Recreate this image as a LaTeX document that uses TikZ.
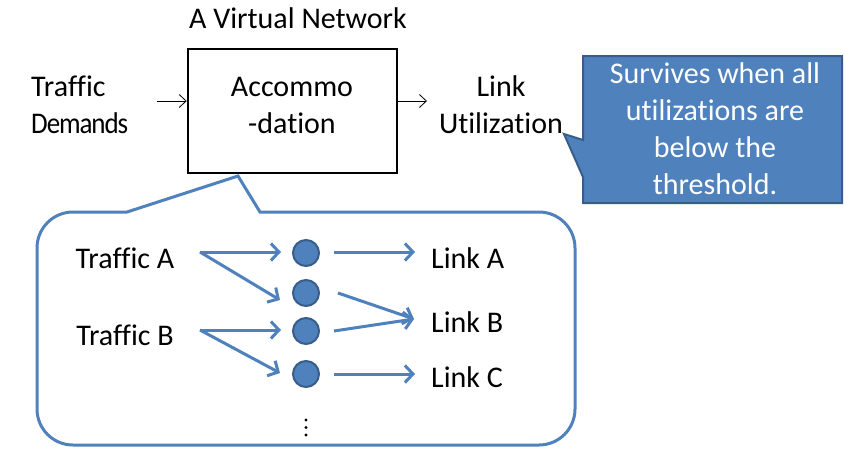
\documentclass[tikz,border=0pt]{standalone}
\usepackage{fontspec}
\setmainfont{Carlito}[Ligatures=CommonOff]
\newfontfamily\tightfont{Carlito}[Ligatures=CommonOff, LetterSpace=-4]
\usetikzlibrary{arrows.meta}
\definecolor{pblue}{HTML}{4F81BD}
\definecolor{pdark}{HTML}{385D8A}
\begin{document}
\begin{tikzpicture}[x=1pt,y=-1pt,
  font=\fontsize{30}{37}\selectfont,
  txt/.style={align=center, inner sep=0pt},
  mainbox/.style={draw=black, line width=2.5pt, minimum width=209pt, minimum height=124pt, inner sep=0pt},
  thinarr/.style={draw=black, line width=0.8pt, -{Straight Barb[length=7pt,width=13pt]}},
  barr/.style={draw=pblue, line width=3pt, -{Straight Barb[length=8pt,width=17pt]}},
  dotn/.style={circle, fill=pblue, draw=pdark, line width=2pt, minimum size=26pt, inner sep=0pt},
  callout/.style={fill=pblue, draw=pdark, line width=2pt, line join=miter},
  bubble/.style={draw=pblue, line width=3pt, fill=white}
]
\useasboundingbox (0,0) rectangle (844,448);

% title and main block
\node[txt] (title) at (298,18) {A Virtual Network};
\node[mainbox] (acc) at (292.5,111) {};
\node[txt] (acctext) at (292,105) {Accommo\\-dation};
\node[txt, align=left, anchor=west] (demand) at (31,105) {Traffic\\\scalebox{0.9}[1]{\tightfont Demands}};
\node[txt] (util) at (501,105) {Link\\Utilization};
\coordinate (inS) at (157,101);
\coordinate (outE) at (427,101);
\draw[thinarr] (inS) -- (acc.west |- inS);
\draw[thinarr] (acc.east |- outE) -- (outE);

% callout
\draw[callout] (583,56) -- (842,56) -- (842,203) -- (583,203) -- (583,177) -- (564,134) -- (583,140) -- cycle;
\node[txt, text=white] (note) at (715,129) {Survives when all\\utilizations are\\below the\\threshold.};

% bubble
\draw[bubble] (127,212) -- (238,176) -- (260,212) [rounded corners=36pt] -- (575,212) -- (575,445) -- (37,445) -- (37,212) [sharp corners] -- cycle;

% inner contents
\node[txt] (trA) at (125,258) {Traffic A};
\node[txt] (trB) at (125,335) {Traffic B};
\node[txt, anchor=west] (lkA) at (431,258) {Link A};
\node[txt, anchor=west] (lkB) at (431,322) {Link B};
\node[txt, anchor=west] (lkC) at (431,377) {Link C};

\node[dotn] (c1) at (306,253) {};
\node[dotn] (c2) at (306,293) {};
\node[dotn] (c3) at (306,331) {};
\node[dotn] (c4) at (306,374) {};

\coordinate (sA) at (200,252);
\coordinate (sB) at (200,330);
\coordinate (e1) at (281,252);
\coordinate (e2) at (280,300);
\coordinate (e3) at (281,330);
\coordinate (e4) at (280,373);
\coordinate (f1) at (334,252);
\coordinate (f2) at (338,293);
\coordinate (f3) at (334,331);
\coordinate (f4) at (334,374);
\coordinate (tA) at (415,252);
\coordinate (tB) at (414,319);
\coordinate (tC) at (415,374);

\draw[barr] (sA) -- (e1);
\draw[barr] (sA) -- (e2);
\draw[barr] (sB) -- (e3);
\draw[barr] (sB) -- (e4);
\draw[barr] (f1) -- (tA);
\draw[barr] (f2) -- (tB);
\draw[barr] (f3) -- (tB);
\draw[barr] (f4) -- (tC);

\fill (306,420) circle (1.6pt) (306,427.5) circle (1.6pt) (306,435) circle (1.6pt);
\end{tikzpicture}
\end{document}
